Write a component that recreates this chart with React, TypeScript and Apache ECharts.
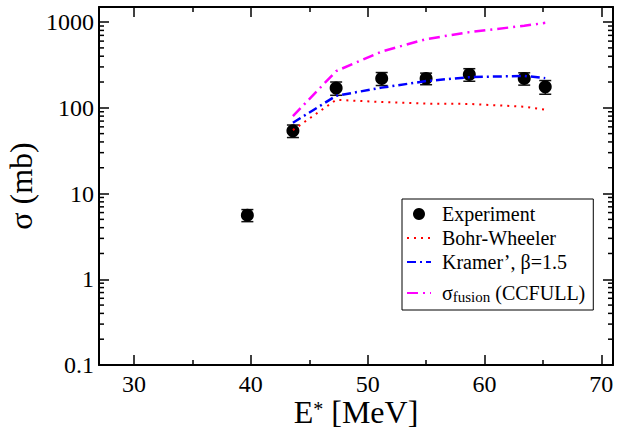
import React, { useEffect, useRef } from "react";
import * as echarts from "echarts";

// ---- data ----
const expEnergy = [39.7, 43.6, 47.3, 51.2, 55.0, 58.7, 63.4, 65.2];
const expSigma = [5.6, 54, 170, 220, 220, 245, 220, 176];
const expError = [0.9, 9, 30, 38, 34, 41, 36, 32];

const theoryEnergy = [43.6, 47.3, 51.2, 55.0, 58.7, 63.4, 65.2];
const bohrWheeler = [55, 124, 117, 112, 111, 103, 95];
const kramer = [67, 138, 172, 205, 228, 236, 222];
const fusion = [80, 268, 454, 633, 764, 906, 980];

const xTickLabels = ["30", "40", "50", "60", "70"];
const yTickLabels = ["0.1", "1", "10", "100", "1000"];
const yMinorTickValues = [
  0.2, 0.3, 0.4, 0.5, 0.6, 0.7, 0.8, 0.9,
  2, 3, 4, 5, 6, 7, 8, 9,
  20, 30, 40, 50, 60, 70, 80, 90,
  200, 300, 400, 500, 600, 700, 800, 900,
];

const X_MIN = 27;
const X_MAX = 71;
const Y_MIN = 0.1;
const Y_MAX = 1500;

const FONT = "Liberation Serif";

export default function App() {
  const ref = useRef<HTMLDivElement>(null);

  useEffect(() => {
    if (!ref.current) return;
    const chart = echarts.init(ref.current, null, { renderer: "svg" });

    const axisLine = { show: true, onZero: false, lineStyle: { color: "#000", width: 2 } };
    const axisTick = { show: true, inside: true, length: 10, lineStyle: { color: "#000", width: 1.5 } };
    const minorTick = { show: true, splitNumber: 2, length: 5, lineStyle: { color: "#000", width: 1.5 } };

    const xLabelFormatter = (v: number) => {
      const s = String(v);
      return xTickLabels.includes(s) ? s : "";
    };
    const yLabelFormatter = (v: number) => {
      const e = Math.log10(v);
      const r = Math.round(e);
      if (Math.abs(e - r) < 1e-6 && r >= -1 && r <= 3) return yTickLabels[r + 1];
      return "";
    };

    const hiddenSymbol = { opacity: 0 };

    const option: any = {
      animation: false,
      backgroundColor: "#fff",
      grid: { left: 99, right: 5, top: 7, bottom: 67, containLabel: false, outerBoundsMode: "none" },
      xAxis: [
        {
          type: "value",
          position: "bottom",
          min: X_MIN,
          max: X_MAX,
          axisLine,
          axisTick,
          minorTick,
          splitLine: { show: false },
          axisLabel: {
            formatter: xLabelFormatter,
            fontFamily: FONT,
            fontSize: 24,
            lineHeight: 18,
            color: "#000",
            margin: 10,
          },
          name: "{e|E}{s|*}{e| [MeV]}",
          nameLocation: "middle",
          nameGap: 34,
          nameMoveOverlap: false,
          nameTextStyle: {
            fontFamily: FONT,
            fontSize: 32,
            color: "#000",
            rich: {
              e: { fontFamily: FONT, fontSize: 32, lineHeight: 26, color: "#000" },
              s: { fontFamily: FONT, fontSize: 20, lineHeight: 14, color: "#000", verticalAlign: "top" },
            },
          },
        },
        {
          type: "value",
          position: "top",
          min: X_MIN,
          max: X_MAX,
          axisLine,
          axisTick,
          minorTick,
          splitLine: { show: false },
          axisLabel: { show: false },
        },
      ],
      yAxis: [
        {
          type: "log",
          logBase: 10,
          position: "left",
          min: Y_MIN,
          max: Y_MAX,
          axisLine,
          axisTick,
          splitLine: { show: false },
          axisLabel: {
            formatter: yLabelFormatter,
            fontFamily: FONT,
            fontSize: 24,
            color: "#000",
            margin: 5,
          },
          name: "σ (mb)",
          nameLocation: "middle",
          nameGap: 62,
          nameMoveOverlap: false,
          nameTextStyle: { fontFamily: FONT, fontSize: 32, color: "#000" },
        },
        {
          type: "log",
          logBase: 10,
          position: "right",
          min: Y_MIN,
          max: Y_MAX,
          axisLine,
          axisTick,
          splitLine: { show: false },
          axisLabel: { show: false },
        },
      ],
      legend: {
        orient: "vertical",
        left: 402,
        top: 199,
        data: [
          { name: "Experiment", icon: "circle" },
          { name: "Bohr-Wheeler", itemStyle: hiddenSymbol },
          { name: "Kramer’, β=1.5", itemStyle: hiddenSymbol },
          { name: "fusion", itemStyle: hiddenSymbol },
        ],
        backgroundColor: "#fff",
        borderColor: "#000",
        borderWidth: 1,
        borderRadius: 0,
        padding: [4, 8, 6, 4],
        itemWidth: 24,
        itemHeight: 12,
        itemGap: 2,
        formatter: (name: string) =>
          name === "fusion" ? "{a|σ}{b|fusion}{a| (CCFULL)}" : "{a|" + name + "}",
        textStyle: {
          fontFamily: FONT,
          fontSize: 20,
          color: "#000",
          lineHeight: 22,
          padding: [0, 0, 0, 6],
          rich: {
            a: { fontFamily: FONT, fontSize: 20, color: "#000", lineHeight: 22 },
            b: { fontFamily: FONT, fontSize: 15, color: "#000", lineHeight: 15, verticalAlign: "bottom", padding: [14, 0, 0, 0] },
          },
        },
      },
      series: [
        {
          name: "minorTicks",
          type: "custom",
          xAxisIndex: 0,
          yAxisIndex: 0,
          silent: true,
          clip: false,
          data: yMinorTickValues.map((v) => [X_MIN, v]),
          encode: { x: 0, y: 1 },
          renderItem: (params: any, api: any) => {
            const y = api.coord([api.value(0), api.value(1)])[1];
            const cs = params.coordSys;
            const st = { stroke: "#000", lineWidth: 1.5 };
            return {
              type: "group",
              children: [
                { type: "line", shape: { x1: cs.x, y1: y, x2: cs.x + 5, y2: y }, style: st },
                { type: "line", shape: { x1: cs.x + cs.width, y1: y, x2: cs.x + cs.width - 5, y2: y }, style: st },
              ],
            };
          },
        },
        {
          name: "errorbars",
          type: "custom",
          xAxisIndex: 0,
          yAxisIndex: 0,
          silent: true,
          data: expEnergy.map((x, i) => [x, expSigma[i] - expError[i], expSigma[i] + expError[i]]),
          encode: { x: 0, y: [1, 2] },
          renderItem: (params: any, api: any) => {
            const x = api.value(0);
            const lo = api.coord([x, api.value(1)]);
            const hi = api.coord([x, api.value(2)]);
            const hw = 6;
            const st = { stroke: "#111", lineWidth: 1.5 };
            return {
              type: "group",
              children: [
                { type: "line", shape: { x1: lo[0], y1: lo[1], x2: hi[0], y2: hi[1] }, style: st },
                { type: "line", shape: { x1: lo[0] - hw, y1: lo[1], x2: lo[0] + hw, y2: lo[1] }, style: st },
                { type: "line", shape: { x1: hi[0] - hw, y1: hi[1], x2: hi[0] + hw, y2: hi[1] }, style: st },
              ],
            };
          },
        },
        {
          name: "Experiment",
          type: "scatter",
          symbol: "circle",
          symbolSize: 13,
          itemStyle: { color: "#000", opacity: 1 },
          data: expEnergy.map((x, i) => [x, expSigma[i]]),
        },
        {
          name: "Bohr-Wheeler",
          type: "line",
          symbol: "none",
          itemStyle: { color: "#ff0000" },
          lineStyle: { color: "#ff0000", width: 2, type: [2, 5] },
          data: theoryEnergy.map((x, i) => [x, bohrWheeler[i]]),
        },
        {
          name: "Kramer’, β=1.5",
          type: "line",
          symbol: "none",
          itemStyle: { color: "#0000ff" },
          lineStyle: { color: "#0000ff", width: 2.5, type: [9, 4, 2, 4] },
          data: theoryEnergy.map((x, i) => [x, kramer[i]]),
        },
        {
          name: "fusion",
          type: "line",
          symbol: "none",
          itemStyle: { color: "#ff00ff" },
          lineStyle: { color: "#ff00ff", width: 2.5, type: [11, 5, 2, 5] },
          data: theoryEnergy.map((x, i) => [x, fusion[i]]),
        },
      ],
    };

    chart.setOption(option);
    return () => chart.dispose();
  }, []);

  return (
    <div
      ref={ref}
      style={{ position: "absolute", left: 0, top: 0, width: 618, height: 432 }}
    />
  );
}
